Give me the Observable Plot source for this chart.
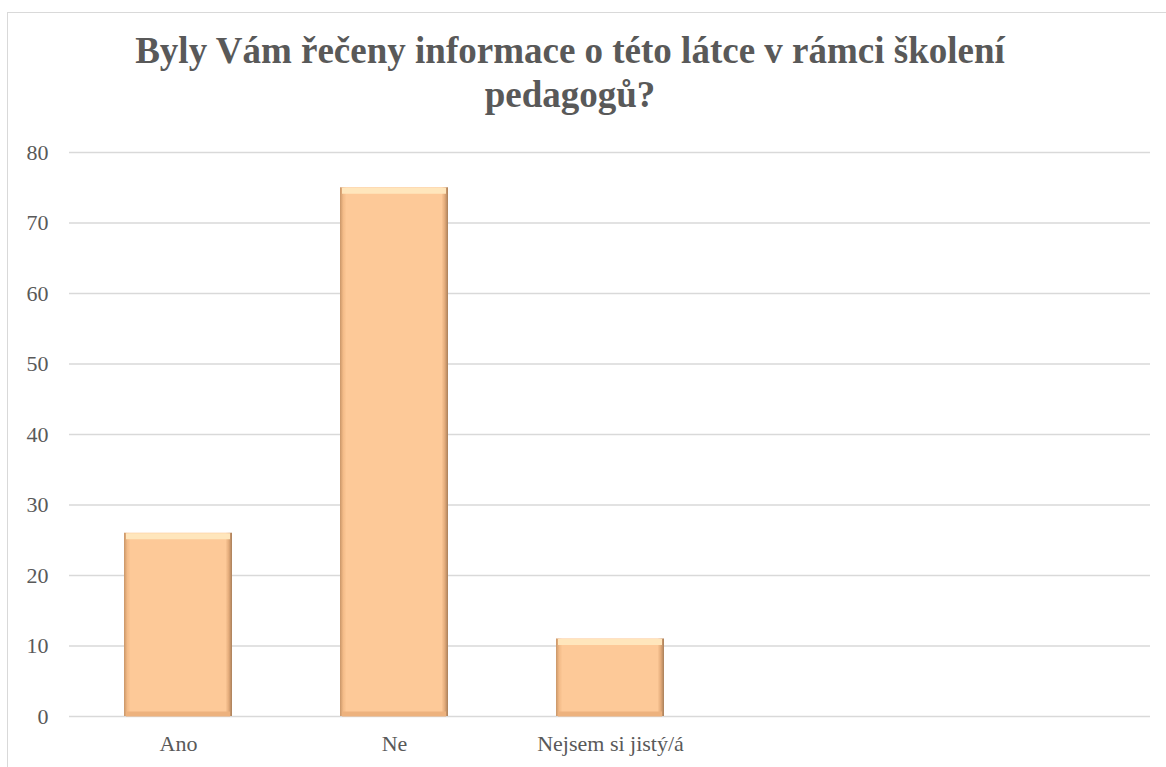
<!DOCTYPE html>
<html>
<head>
<meta charset="utf-8">
<script src="https://cdn.jsdelivr.net/npm/d3@7"></script>
<script src="https://cdn.jsdelivr.net/npm/@observablehq/plot@0.6"></script>
<style>
  html, body { margin: 0; padding: 0; background: #fff; overflow: hidden; }
  #frame { position: absolute; left: 7px; top: 12px; width: 1200px; height: 800px; border: 1px solid #d9d9d9; box-sizing: border-box; }
  #wrap { position: absolute; left: 0; top: 0; width: 1166px; }
  #title { height: 130px; box-sizing: border-box; padding-top: 29px; width: 1140px; text-align: center;
    font-family: "Liberation Serif", "DejaVu Serif", serif; font-weight: bold; font-size: 37px; line-height: 44px; color: #595959; }
  svg { display: block; }
</style>
</head>
<body>
<div id="frame"></div>
<div id="wrap">
  <div id="title">Byly Vám řečeny informace o této látce v rámci školení<br>pedagogů?</div>
  <div id="chart"></div>
</div>
<script>
const categories = ["Ano", "Ne", "Nejsem si jistý/á"];
const values = [26, 75, 11];
const emptySlots = ["_slot4", "_slot5"];
const yTicks = [0, 10, 20, 30, 40, 50, 60, 70, 80];

const data = categories.map((c, i) => ({cat: c, value: values[i]}));
const domain = [...categories, ...emptySlots];

const serif = "'Liberation Serif', 'DejaVu Serif', serif";
const chart = Plot.plot({
  width: 1166,
  height: 637,
  marginLeft: 69,
  marginRight: 16,
  marginTop: 22,
  marginBottom: 51,
  style: {fontFamily: serif, fontSize: "22px", color: "#595959", background: "transparent"},
  x: {domain, paddingInner: 0.5, paddingOuter: 0.25, label: null},
  y: {domain: [0, 80], label: null},
  marks: [
    Plot.ruleY(yTicks, {stroke: "#d9d9d9", strokeWidth: 1.5}),
    Plot.barY(data, {x: "cat", y: "value", fill: "url(#bevelH)"}),
    Plot.tickY(data, {x: "cat", y: "value", stroke: "#FFE6BC", strokeWidth: 6, dy: 3, insetLeft: 2, insetRight: 2}),
    Plot.tickY(data, {x: "cat", y: () => 0, stroke: "#EDB27E", strokeWidth: 5, dy: -2.5, insetLeft: 2, insetRight: 2}),
    Plot.axisY({ticks: yTicks, tickSize: 0, tickPadding: 21, fill: "#595959", fontSize: 22, fontFamily: serif}),
    Plot.axisX({tickSize: 0, tickPadding: 19, fill: "#595959", fontSize: 22, fontFamily: serif, tickFormat: d => categories.includes(d) ? d : ""})
  ]
});

const ns = "http://www.w3.org/2000/svg";
const defs = document.createElementNS(ns, "defs");
defs.innerHTML = `<linearGradient id="bevelH" x1="0" y1="0" x2="1" y2="0">
  <stop offset="0" stop-color="#C99668"/>
  <stop offset="0.03" stop-color="#F3BB88"/>
  <stop offset="0.06" stop-color="#FDC998"/>
  <stop offset="0.94" stop-color="#FDC998"/>
  <stop offset="0.97" stop-color="#E3AB7A"/>
  <stop offset="1" stop-color="#A97F5A"/>
</linearGradient>`;
chart.insertBefore(defs, chart.firstChild);
document.getElementById("chart").appendChild(chart);
</script>
</body>
</html>
